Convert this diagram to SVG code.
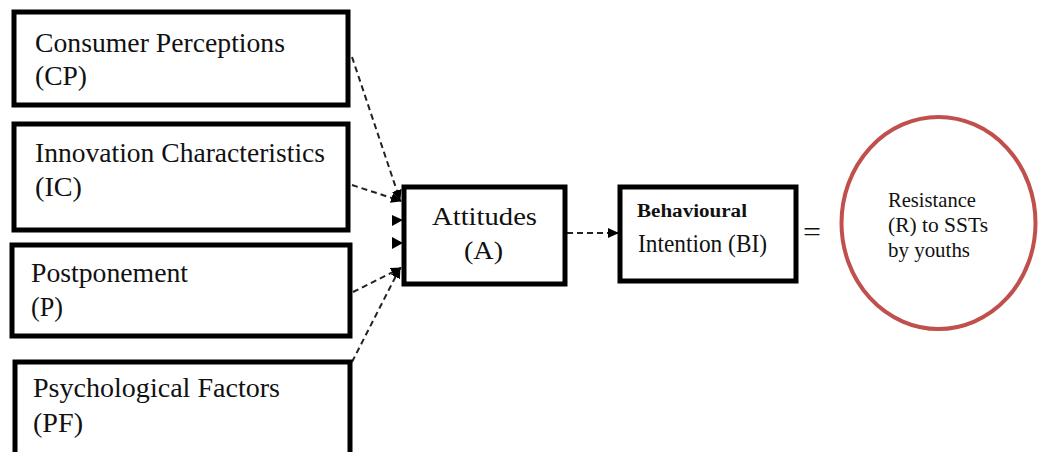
<svg xmlns="http://www.w3.org/2000/svg" width="1038" height="452" viewBox="0 0 1038 452">
  <style>
    .box { fill: #ffffff; stroke: #000000; stroke-width: 5; }
    .t { font-family: "Liberation Serif", "Times New Roman", serif; fill: #111111; }
    .big { font-size: 27px; }
    .mid { font-size: 26px; }
    .sm { font-size: 22px; }
    .conn { fill: none; stroke: #222222; stroke-width: 2; stroke-dasharray: 6 4; }
    .head { fill: #000000; }
  </style>
  <defs>
    <marker id="arr" markerUnits="userSpaceOnUse" markerWidth="11" markerHeight="10" refX="10" refY="5" orient="auto">
      <path d="M0,0 L11,5 L0,10 z" fill="#000000"/>
    </marker>
  </defs>

  <g id="connectors">
    <path class="conn" d="M352,57 L400,200" marker-end="url(#arr)"/>
    <path class="conn" d="M352,185 L401,201" marker-end="url(#arr)"/>
    <path class="conn" d="M353,292 L401,268" marker-end="url(#arr)"/>
    <path class="conn" d="M352,362 L400,268" marker-end="url(#arr)"/>
    <path class="head" d="M392,215 L403,220 L392,226 z"/>
    <path class="head" d="M392,237 L403,243 L392,249 z"/>
    <path class="conn" d="M567,233 L618,233" marker-end="url(#arr)"/>
  </g>

  <g id="node-cp">
    <rect class="box" x="14" y="12" width="334" height="93"/>
    <text class="t big" x="35" y="52" textLength="250" lengthAdjust="spacingAndGlyphs">Consumer Perceptions</text>
    <text class="t big" x="35" y="85" textLength="52" lengthAdjust="spacingAndGlyphs">(CP)</text>
  </g>

  <g id="node-ic">
    <rect class="box" x="14" y="124" width="334" height="106"/>
    <text class="t big" x="35" y="162" textLength="290" lengthAdjust="spacingAndGlyphs">Innovation Characteristics</text>
    <text class="t big" x="35" y="196" textLength="47" lengthAdjust="spacingAndGlyphs">(IC)</text>
  </g>

  <g id="node-p">
    <rect class="box" x="12" y="245" width="338" height="91"/>
    <text class="t big" x="31" y="282" textLength="157" lengthAdjust="spacingAndGlyphs">Postponement</text>
    <text class="t big" x="31" y="316" textLength="32" lengthAdjust="spacingAndGlyphs">(P)</text>
  </g>

  <g id="node-pf">
    <rect class="box" x="15" y="362" width="335" height="120"/>
    <text class="t big" x="33" y="397" textLength="247" lengthAdjust="spacingAndGlyphs">Psychological Factors</text>
    <text class="t big" x="33" y="432" textLength="50" lengthAdjust="spacingAndGlyphs">(PF)</text>
  </g>

  <g id="node-a">
    <rect class="box" x="404" y="187" width="161" height="97"/>
    <text class="t mid" x="432" y="225" textLength="105" lengthAdjust="spacingAndGlyphs">Attitudes</text>
    <text class="t mid" x="464" y="259" textLength="39" lengthAdjust="spacingAndGlyphs">(A)</text>
  </g>

  <g id="node-bi">
    <rect class="box" x="620" y="187" width="176" height="94"/>
    <text class="t" x="637" y="217" font-size="18" font-weight="bold" textLength="110" lengthAdjust="spacingAndGlyphs">Behavioural</text>
    <text class="t" x="638" y="252" font-size="25" textLength="129" lengthAdjust="spacingAndGlyphs">Intention (BI)</text>
  </g>

  <g id="equals">
    <text class="t" x="803" y="241" font-size="28" textLength="18" lengthAdjust="spacingAndGlyphs">=</text>
  </g>

  <g id="node-r">
    <ellipse cx="938.5" cy="223" rx="97" ry="106" fill="#ffffff" stroke="#c0504d" stroke-width="4"/>
    <text class="t sm" x="888" y="207" textLength="88" lengthAdjust="spacingAndGlyphs">Resistance</text>
    <text class="t sm" x="888" y="232" textLength="100" lengthAdjust="spacingAndGlyphs">(R) to SSTs</text>
    <text class="t sm" x="888" y="257" textLength="82" lengthAdjust="spacingAndGlyphs">by youths</text>
  </g>
</svg>
